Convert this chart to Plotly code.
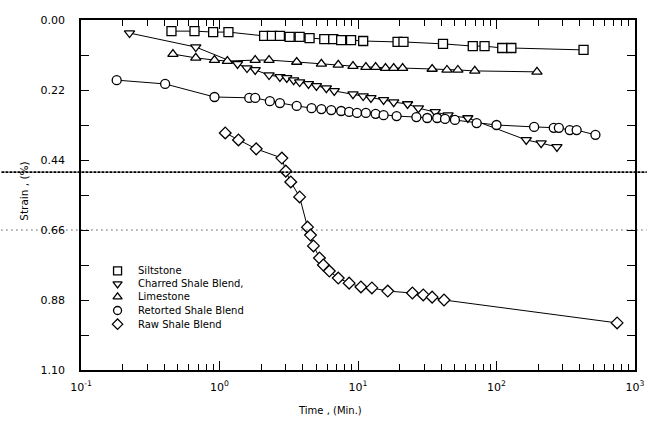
import plotly.graph_objects as go

# ---- data (time in minutes, strain in %) ----
silt_t = [0.45, 0.66, 0.9, 1.16, 2.1, 2.39, 2.73, 3.21, 3.79, 4.47, 5.71, 6.63, 7.56, 8.91,
          10.9, 19.3, 21.3, 41.1, 67.4, 82, 110, 128, 425]
silt_s = [0.035, 0.035, 0.038, 0.038, 0.050, 0.050, 0.050, 0.053, 0.053, 0.057, 0.060, 0.060,
          0.063, 0.063, 0.066, 0.069, 0.069, 0.075, 0.082, 0.082, 0.088, 0.088, 0.094]

char_t = [0.224, 0.674, 1.35, 1.58, 1.81, 2.28, 2.73, 3.06, 3.43, 3.79, 4.39, 5.01, 5.91, 6.74,
          9.2, 10.9, 12.4, 15.3, 18.1, 22.8, 27.3, 36.1, 44.7, 62.1, 164, 210, 273]
char_s = [0.041, 0.085, 0.138, 0.151, 0.157, 0.173, 0.179, 0.182, 0.189, 0.195, 0.201, 0.207,
          0.214, 0.223, 0.233, 0.239, 0.245, 0.251, 0.258, 0.264, 0.277, 0.289, 0.299, 0.308,
          0.377, 0.387, 0.399]

lime_t = [0.461, 0.674, 0.92, 1.14, 1.81, 2.28, 3.61, 5.44, 7.2, 9.2, 11.4, 13.4, 15.8, 18.1,
          21.0, 34.3, 43.9, 52.6, 69.7, 196]
lime_s = [0.107, 0.119, 0.126, 0.129, 0.126, 0.126, 0.132, 0.138, 0.141, 0.145, 0.148, 0.148,
          0.151, 0.151, 0.151, 0.154, 0.157, 0.157, 0.160, 0.163]

ret_t = [0.181, 0.405, 0.92, 1.64, 1.81, 2.31, 2.73, 3.61, 4.62, 5.44, 6.41, 7.56, 8.63, 9.83,
         11.4, 13.4, 15.3, 19.0, 26.4, 31.6, 37.3, 42.5, 50.1, 71.9, 100, 187, 259, 282, 338,
         379, 518]
ret_s = [0.189, 0.201, 0.242, 0.245, 0.245, 0.255, 0.261, 0.270, 0.277, 0.280, 0.283, 0.286,
         0.289, 0.292, 0.292, 0.295, 0.299, 0.302, 0.305, 0.308, 0.308, 0.311, 0.314, 0.324,
         0.330, 0.336, 0.339, 0.339, 0.346, 0.346, 0.361]

raw_t = [1.1, 1.37, 1.84, 2.82, 3.01, 3.27, 3.79, 4.32, 4.54, 4.77, 5.27, 5.62, 6.21, 7.2,
         8.63, 10.5, 12.6, 16.4, 24.7, 29.6, 34.3, 41.8, 743]
raw_s = [0.355, 0.377, 0.405, 0.434, 0.475, 0.509, 0.556, 0.651, 0.676, 0.710, 0.748, 0.770,
         0.789, 0.811, 0.827, 0.839, 0.842, 0.852, 0.858, 0.864, 0.871, 0.880, 0.952]

names = ["Siltstone", "Charred Shale Blend,", "Limestone", "Retorted Shale Blend", "Raw Shale Blend"]
symbols = ["square", "triangle-down", "triangle-up", "circle", "diamond"]
series = [(silt_t, silt_s), (char_t, char_s), (lime_t, lime_s), (ret_t, ret_s), (raw_t, raw_s)]

y_tickvals = [0.00, 0.22, 0.44, 0.66, 0.88, 1.10]
y_ticktext = ["0.00", "0.22", "0.44", "0.66", "0.88", "1.10"]
y_minorvals = [0.11, 0.33, 0.55, 0.77, 0.99]
x_tickvals = [0.1, 1, 10, 100, 1000]
x_ticktext = ["10<sup>-1</sup>", "10<sup>0</sup>", "10<sup>1</sup>", "10<sup>2</sup>", "10<sup>3</sup>"]

FONT = "DejaVu Sans"

fig = go.Figure()
for (t, s), nm, sym in zip(series, names, symbols):
    fig.add_trace(go.Scatter(
        x=t, y=s, mode="lines+markers", name=nm, showlegend=False,
        line=dict(color="black", width=1),
        marker=dict(symbol=sym, size=9, color="white", line=dict(color="black", width=1.3)),
    ))

# hand-made legend on an overlay axis (0..1 in both directions)
leg_y = [0.283, 0.246, 0.209, 0.170, 0.131]
fig.add_trace(go.Scatter(
    x=[0.066] * 5, y=leg_y, mode="markers", xaxis="x2", yaxis="y2", showlegend=False,
    marker=dict(symbol=symbols, size=8, color="white", line=dict(color="black", width=1.3)),
    hoverinfo="skip",
))
for nm, yy in zip(names, leg_y):
    fig.add_annotation(x=0.100, y=yy, xref="paper", yref="paper", text=nm, showarrow=False,
                       xanchor="left", yanchor="middle", font=dict(family=FONT, size=10, color="black"))

# horizontal reference lines running across the page
PL, PR = 81, 12
PW = 657 - PL - PR
x0 = -PL / PW
x1 = (657 - PL) / PW
fig.add_shape(type="line", xref="paper", yref="y", x0=x0, x1=x1, y0=0.478, y1=0.478,
              line=dict(color="black", width=1.6, dash="3px,1px"))
fig.add_shape(type="line", xref="paper", yref="y", x0=x0, x1=x1, y0=0.66, y1=0.66,
              line=dict(color="black", width=1, dash="1px,4px"))

fig.add_annotation(x=(14 - PL) / PW, y=0.51, xref="paper", yref="paper", text="Strain , (%)",
                   textangle=-90, showarrow=False, font=dict(family=FONT, size=10.5, color="black"))
fig.add_annotation(x=(335 - PL) / PW, y=-(410 - 370) / 350, xref="paper", yref="paper",
                   text="Time , (Min.)", showarrow=False, yanchor="middle",
                   font=dict(family=FONT, size=10, color="black"))

fig.update_layout(
    width=657, height=422,
    margin=dict(l=PL, r=PR, t=20, b=52),
    paper_bgcolor="white", plot_bgcolor="white",
    font=dict(family=FONT, size=11, color="black"),
    xaxis=dict(type="log", range=[-1, 3], tickvals=x_tickvals, ticktext=x_ticktext,
               ticks="inside", ticklen=9, tickwidth=1.2, tickcolor="black",
               showline=True, linewidth=1.5, linecolor="black", mirror="ticks",
               showgrid=False, zeroline=False, ticklabelstandoff=6,
               minor=dict(ticks="inside", ticklen=6, tickwidth=1, tickcolor="black", showgrid=False,
                          tickvals=[k * 10 ** e for e in (-1, 0, 1, 2) for k in range(2, 10)])),
    yaxis=dict(range=[1.10, 0.0], tickvals=y_tickvals, ticktext=y_ticktext,
               ticks="inside", ticklen=8, tickwidth=1.2, tickcolor="black",
               showline=True, linewidth=1.5, linecolor="black", mirror="ticks",
               showgrid=False, zeroline=False, ticklabelstandoff=12,
               minor=dict(ticks="inside", ticklen=8, tickwidth=1.2, tickcolor="black",
                          showgrid=False, tickvals=y_minorvals)),
    xaxis2=dict(overlaying="x", range=[0, 1], visible=False),
    yaxis2=dict(overlaying="y", range=[0, 1], visible=False),
    showlegend=False,
)

fig.write_html("out.html")
